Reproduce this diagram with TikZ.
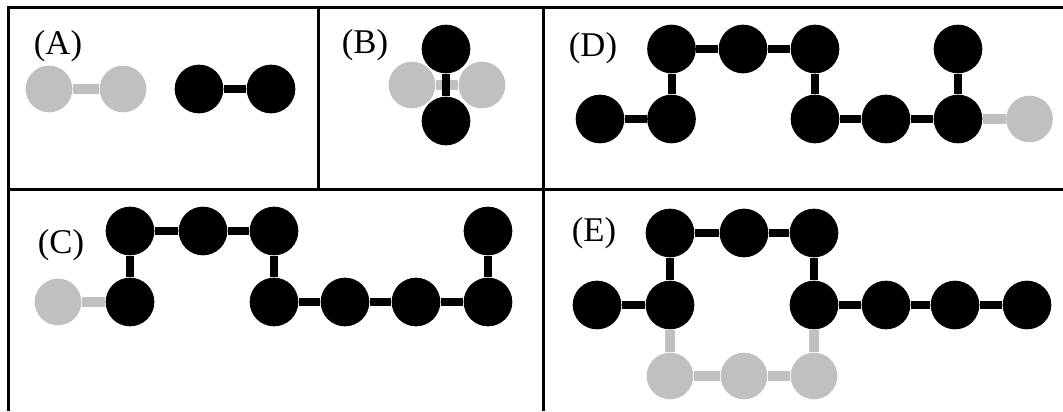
\documentclass[tikz,border=0pt]{standalone}
\usepackage{fontspec}
\setmainfont{Liberation Serif}
\definecolor{molgray}{RGB}{192,192,192}
\begin{document}
\begin{tikzpicture}[x=0.75pt,y=-0.75pt,
  blk/.style={circle,fill=black,inner sep=0pt,minimum size=36.5pt},
  gry/.style={circle,fill=molgray,inner sep=0pt,minimum size=35pt},
  blink/.style={line width=6pt,black},
  glink/.style={line width=7pt,molgray},
  frameline/.style={line width=2.25pt,black},
  lbl/.style={font=\fontsize{26}{26}\selectfont,inner sep=0pt}]
\useasboundingbox (0,0) rectangle (1063,411);
% frame
\draw[frameline] (1063,7) -- (8,7) -- (8,411);
\draw[frameline] (8,189) -- (1063,189);
\draw[frameline] (318,7) -- (318,189);
\draw[frameline] (543,7) -- (543,411);
% Panel A
\node[lbl] (la) at (58,46) {(A)};
\node[gry] (a1) at (49,89) {};
\node[gry] (a2) at (123,89) {};
\node[blk] (a3) at (199,89) {};
\node[blk] (a4) at (271,89) {};
\draw[glink] (a1) -- (a2);
\draw[blink] (a3) -- (a4);
% Panel B
\node[lbl] (lb) at (365,45) {(B)};
\node[gry] (b1) at (412,85) {};
\node[gry] (b2) at (482,85) {};
\draw[glink] (b1) -- (b2);
\node[blk] (b3) at (446,49) {};
\node[blk] (b4) at (446,121) {};
\draw[blink] (b3) -- (b4);
% Panel D
\node[lbl] (ld) at (593,48) {(D)};
\node[blk] (d1) at (600,119) {};
\node[blk] (d2) at (671.5,119) {};
\node[blk] (d3) at (671.5,49) {};
\node[blk] (d4) at (743,49) {};
\node[blk] (d5) at (815,49) {};
\node[blk] (d6) at (815,119) {};
\node[blk] (d7) at (886,119) {};
\node[blk] (d8) at (958,119) {};
\node[blk] (d9) at (958,49) {};
\node[gry] (d10) at (1029.5,119) {};
\draw[blink] (d1) -- (d2);
\draw[blink] (d2) -- (d3);
\draw[blink] (d3) -- (d4);
\draw[blink] (d4) -- (d5);
\draw[blink] (d5) -- (d6);
\draw[blink] (d6) -- (d7);
\draw[blink] (d7) -- (d8);
\draw[blink] (d8) -- (d9);
\draw[glink] (d8) -- (d10);
% Panel C
\node[lbl] (lc) at (61,245) {(C)};
\node[gry] (c1) at (58,302) {};
\node[blk] (c2) at (130,302) {};
\node[blk] (c3) at (130,231) {};
\node[blk] (c4) at (203,231) {};
\node[blk] (c5) at (274,231) {};
\node[blk] (c6) at (274,302) {};
\node[blk] (c7) at (345,302) {};
\node[blk] (c8) at (416,302) {};
\node[blk] (c9) at (488,302) {};
\node[blk] (c10) at (488,231) {};
\draw[glink] (c1) -- (c2);
\draw[blink] (c2) -- (c3);
\draw[blink] (c3) -- (c4);
\draw[blink] (c4) -- (c5);
\draw[blink] (c5) -- (c6);
\draw[blink] (c6) -- (c7);
\draw[blink] (c7) -- (c8);
\draw[blink] (c8) -- (c9);
\draw[blink] (c9) -- (c10);
% Panel E
\node[lbl] (le) at (594,233) {(E)};
\node[blk] (e1) at (597,305) {};
\node[blk] (e2) at (670,305) {};
\node[blk] (e3) at (670,233) {};
\node[blk] (e4) at (744,233) {};
\node[blk] (e5) at (814,233) {};
\node[blk] (e6) at (814,305) {};
\node[blk] (e7) at (886,305) {};
\node[blk] (e8) at (955,305) {};
\node[blk] (e9) at (1027,305) {};
\node[gry] (g1) at (670,376) {};
\node[gry] (g2) at (744,376) {};
\node[gry] (g3) at (814,376) {};
\draw[blink] (e1) -- (e2);
\draw[blink] (e2) -- (e3);
\draw[blink] (e3) -- (e4);
\draw[blink] (e4) -- (e5);
\draw[blink] (e5) -- (e6);
\draw[blink] (e6) -- (e7);
\draw[blink] (e7) -- (e8);
\draw[blink] (e8) -- (e9);
\draw[glink] (e2) -- (g1);
\draw[glink] (g1) -- (g2);
\draw[glink] (g2) -- (g3);
\draw[glink] (g3) -- (e6);
\end{tikzpicture}
\end{document}
